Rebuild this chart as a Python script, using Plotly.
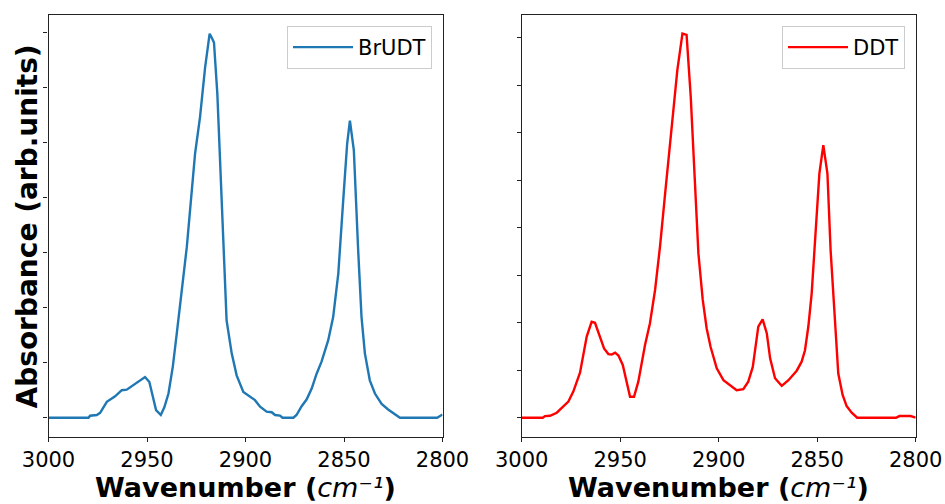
import plotly.graph_objects as go

# ---- data (y in tick units) ----
wn_brudt = [3000, 2979.7, 2978.9, 2975.5, 2973.8, 2970.4, 2966.2, 2962.8, 2960.3, 2951.0, 2948.8,
            2945.4, 2943.0, 2941.2, 2939.1, 2936.9, 2934.9, 2932.4, 2929.8, 2925.6, 2923.1,
            2920.5, 2918.2, 2917.2, 2916.0, 2914.3, 2912.1, 2909.6, 2907.0, 2904.5, 2901.1,
            2898.6, 2895.2, 2892.6, 2889.3, 2886.7, 2885.0, 2882.5, 2881.2, 2875.7, 2874.1,
            2871.5, 2869.0, 2866.4, 2863.9, 2861.4, 2858.0, 2855.5, 2852.9, 2850.4, 2848.4,
            2847.0, 2845.0, 2842.8, 2841.1, 2839.4, 2836.9, 2834.3, 2830.9, 2827.6, 2821.6,
            2802.7, 2800]
abs_brudt = [0, 0, 0.036, 0.05, 0.09, 0.29, 0.39, 0.50, 0.51, 0.74, 0.65,
             0.14, 0.05, 0.19, 0.44, 0.93, 1.53, 2.32, 3.10, 4.80, 5.46,
             6.37, 6.98, 6.91, 6.82, 5.89, 3.95, 1.77, 1.17, 0.77, 0.47,
             0.41, 0.32, 0.20, 0.11, 0.10, 0.05, 0.04, 0, 0, 0.05,
             0.21, 0.33, 0.53, 0.80, 1.02, 1.41, 1.83, 2.62, 3.95, 4.98,
             5.40, 4.86, 3.04, 1.83, 1.17, 0.68, 0.44, 0.25, 0.15, 0,
             0, 0.06]

wn_ddt = [3000, 2989.3, 2988.2, 2985.6, 2982.2, 2978.8, 2976.3, 2973.8, 2970.4, 2967.0, 2964.5,
          2962.8, 2960.6, 2958.2, 2956.0, 2954.3, 2952.6, 2950.9, 2948.7, 2946.7, 2945.0,
          2943.0, 2940.8, 2937.4, 2934.9, 2932.3, 2929.8, 2927.2, 2923.9, 2921.0, 2918.4,
          2916.3, 2914.2, 2912.0, 2910.3, 2908.1, 2906.1, 2904.1, 2901.0, 2897.6, 2893.4,
          2890.9, 2887.5, 2885.0, 2882.7, 2879.9, 2877.7, 2875.6, 2873.9, 2871.4, 2868.0,
          2864.6, 2860.4, 2857.9, 2856.2, 2854.5, 2852.8, 2851.1, 2848.9, 2846.9, 2844.8,
          2843.2, 2841.0, 2839.3, 2837.1, 2835.1, 2832.5, 2829.7, 2810.0, 2808.3, 2802.6, 2800]
abs_ddt = [0, 0, 0.035, 0.04, 0.105, 0.23, 0.34, 0.55, 0.95, 1.71, 2.02,
           2.00, 1.74, 1.46, 1.34, 1.33, 1.37, 1.31, 1.11, 0.76, 0.44,
           0.44, 0.76, 1.53, 1.99, 2.69, 3.60, 4.72, 6.13, 7.32, 8.09,
           8.06, 6.76, 4.72, 3.46, 2.48, 1.88, 1.49, 1.04, 0.79, 0.65,
           0.58, 0.60, 0.76, 1.07, 1.92, 2.07, 1.78, 1.25, 0.83, 0.67,
           0.79, 0.99, 1.18, 1.42, 1.92, 2.62, 3.74, 5.14, 5.74, 5.14,
           3.53, 2.13, 0.93, 0.48, 0.25, 0.105, 0, 0, 0.035, 0.035, 0]

x_ticks = [3000, 2950, 2900, 2850, 2800]
x_ticktext = ["3000", "2950", "2900", "2850", "2800"]
y_ticks_left = [0, 1, 2, 3, 4, 5, 6, 7]
y_ticks_right = [0, 1, 2, 3, 4, 5, 6, 7, 8]

FONT = "DejaVu Sans"
W, H = 945, 504

fig = go.Figure()
fig.add_trace(go.Scatter(x=wn_brudt, y=abs_brudt, mode="lines", name="BrUDT",
                         line=dict(color="#1f77b4", width=2.4), xaxis="x", yaxis="y",
                         legend="legend"))
fig.add_trace(go.Scatter(x=wn_ddt, y=abs_ddt, mode="lines", name="DDT",
                         line=dict(color="red", width=2.4), xaxis="x2", yaxis="y2",
                         legend="legend2"))

axis_common = dict(showline=True, linecolor="#222", linewidth=1.3, mirror=True,
                   ticks="outside", ticklen=4, tickwidth=1.2, tickcolor="#222",
                   showgrid=False, zeroline=False, automargin=False)

ydom = [1 - 437 / H, 1 - 15 / H]
fig.update_layout(
    template="none",
    width=W, height=H,
    margin=dict(l=0, r=0, t=0, b=0, autoexpand=False),
    paper_bgcolor="white", plot_bgcolor="white",
    font=dict(family=FONT, color="black", size=21),
    xaxis=dict(domain=[48.5 / W, 442.5 / W], range=[3000, 2800], tickvals=x_ticks,
               ticktext=x_ticktext, tickfont=dict(size=21), anchor="y", **axis_common),
    yaxis=dict(domain=ydom, range=[-0.35, 7.32], tickvals=y_ticks_left, showticklabels=False,
               anchor="x", **axis_common),
    xaxis2=dict(domain=[521.7 / W, 915.7 / W], range=[3000, 2800], tickvals=x_ticks,
                ticktext=x_ticktext, tickfont=dict(size=21), anchor="y2", **axis_common),
    yaxis2=dict(domain=ydom, range=[-0.406, 8.48], tickvals=y_ticks_right, showticklabels=False,
                anchor="x2", **axis_common),
    legend=dict(x=432 / W, y=1 - 26 / H, xanchor="right", yanchor="top",
                bgcolor="white", bordercolor="#cccccc", borderwidth=1, itemwidth=60,
                font=dict(size=21, family=FONT)),
    legend2=dict(x=905 / W, y=1 - 26 / H, xanchor="right", yanchor="top",
                 bgcolor="white", bordercolor="#cccccc", borderwidth=1, itemwidth=60,
                 font=dict(size=21, family=FONT)),
    showlegend=True,
)

xtitle = "<b>Wavenumber (</b><i>cm⁻¹</i><b>)</b>"
fig.add_annotation(text=xtitle, x=245.5 / W, y=0, xref="paper", yref="paper",
                   xanchor="center", yanchor="bottom", showarrow=False, borderpad=0,
                   font=dict(size=27, family=FONT, color="black"))
fig.add_annotation(text=xtitle, x=718.7 / W, y=0, xref="paper", yref="paper",
                   xanchor="center", yanchor="bottom", showarrow=False, borderpad=0,
                   font=dict(size=27, family=FONT, color="black"))
fig.add_annotation(text="<b>Absorbance (arb.units)</b>", x=27.5 / W, y=1 - 227 / H,
                   xref="paper", yref="paper", xanchor="center", yanchor="middle",
                   textangle=-90, showarrow=False,
                   font=dict(size=28, family=FONT, color="black"))

fig.write_html("out.html")
